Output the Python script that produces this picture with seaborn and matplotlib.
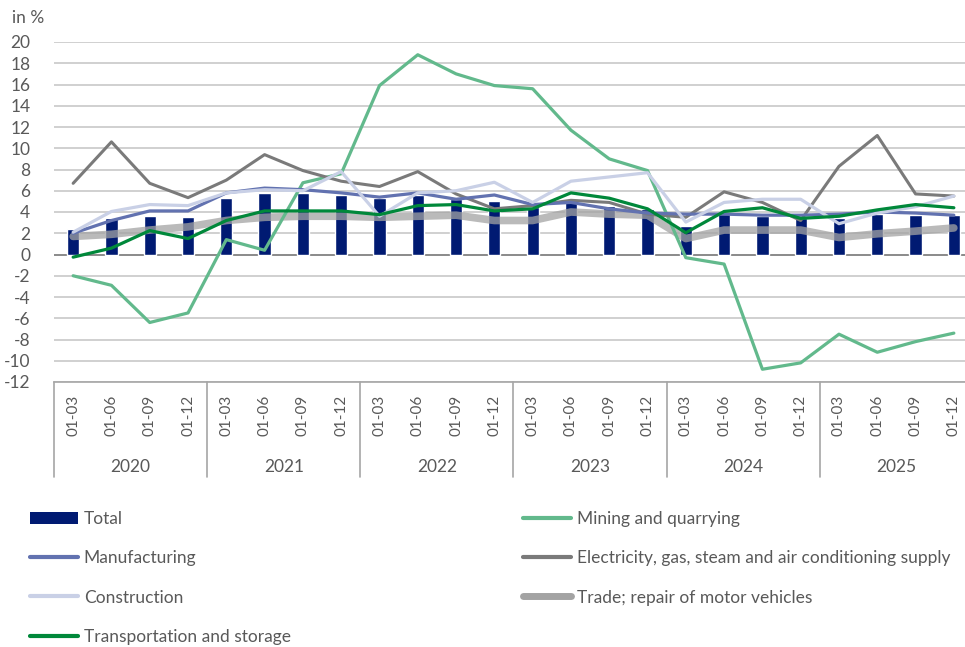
import matplotlib
matplotlib.use("Agg")
import matplotlib.pyplot as plt
import matplotlib.transforms as mtransforms
from matplotlib.lines import Line2D
from matplotlib.patches import Patch
import seaborn as sns
import pandas as pd
import numpy as np

years = ['2020', '2021', '2022', '2023', '2024', '2025']
quarters = ['01-03', '01-06', '01-09', '01-12']

total = [2.4, 3.4, 3.6, 3.5, 5.3, 5.75, 5.75, 5.6, 5.3, 5.6, 5.2, 5.0,
         4.5, 4.9, 4.6, 4.3, 2.7, 3.8, 3.6, 3.4, 3.45, 3.8, 3.7, 3.7]
mining = [-2.0, -2.9, -6.4, -5.5, 1.4, 0.4, 6.75, 7.6, 15.9, 18.8, 17.0, 15.9,
          15.6, 11.7, 9.0, 7.9, -0.3, -0.9, -10.8, -10.2, -7.5, -9.2, -8.2, -7.4]
manufacturing = [2.0, 3.2, 4.1, 4.1, 5.8, 6.25, 6.1, 5.8, 5.4, 5.8, 5.2, 5.6,
                 4.7, 4.9, 4.3, 3.9, 3.8, 3.8, 3.7, 3.7, 3.8, 4.0, 3.9, 3.7]
electricity = [6.7, 10.6, 6.7, 5.35, 7.0, 9.4, 7.9, 6.9, 6.4, 7.8, 5.7, 4.3,
               4.6, 5.1, 4.9, 3.8, 3.5, 5.9, 4.9, 3.2, 8.3, 11.2, 5.7, 5.5]
construction = [2.1, 4.05, 4.7, 4.6, 5.8, 6.1, 6.0, 7.8, 3.6, 5.8, 6.0, 6.8,
                4.9, 6.9, 7.3, 7.7, 3.05, 4.9, 5.2, 5.2, 2.9, 3.9, 4.5, 5.5]
trade = [1.7, 1.9, 2.3, 2.6, 3.2, 3.5, 3.6, 3.6, 3.5, 3.6, 3.7, 3.2,
         3.2, 4.0, 3.8, 3.7, 1.5, 2.3, 2.3, 2.3, 1.6, 1.95, 2.2, 2.5]
transport = [-0.25, 0.6, 2.25, 1.5, 3.2, 4.1, 4.1, 4.1, 3.75, 4.6, 4.7, 4.1,
             4.3, 5.8, 5.3, 4.3, 2.05, 4.05, 4.4, 3.4, 3.6, 4.2, 4.7, 4.4]

labels = ['Total', 'Mining and quarrying', 'Manufacturing',
          'Electricity, gas, steam and air conditioning supply', 'Construction',
          'Trade; repair of motor vehicles', 'Transportation and storage']

sns.set_theme(style="white")
plt.rcParams['font.family'] = ['Lato', 'DejaVu Sans']
plt.rcParams['axes.unicode_minus'] = False

TXT = '#595959'
C_TOTAL = '#001A72'
C_MIN = '#62B98C'
C_MAN = '#6272B0'
C_ELE = '#7A7A7A'
C_CON = '#C9D0E6'
C_TRA = '#A3A3A3'
C_TRS = '#00883A'

n = len(total)
pos = np.arange(n)
df = pd.DataFrame({'pos': pos, 'total': total, 'mining': mining,
                   'manufacturing': manufacturing, 'electricity': electricity,
                   'construction': construction, 'trade': trade,
                   'transport': transport})

fig = plt.figure(figsize=(9.65, 6.47), dpi=100)
ax = fig.add_axes([54 / 965, 1 - 382 / 647, (973 - 54) / 965, (382 - 42) / 647])

sns.barplot(data=df, x='pos', y='total', color=C_TOTAL, width=0.32,
            saturation=1, ax=ax, zorder=3, native_scale=True)

line_specs = [
    ('trade', C_TRA, 5.5, 0.75),
    ('mining', C_MIN, 2.3, 1),
    ('electricity', C_ELE, 2.2, 1),
    ('manufacturing', C_MAN, 2.3, 1),
    ('construction', C_CON, 2.3, 1),
    ('transport', C_TRS, 2.3, 1),
]
for col, c, lw, a in line_specs:
    sns.lineplot(data=df, x='pos', y=col, color=c, linewidth=lw, alpha=a,
                 ax=ax, zorder=4)

ax.set_xlim(-0.5, n - 0.5)
ax.set_ylim(-12, 20)
ax.set_yticks(np.arange(-12, 21, 2))
ax.yaxis.grid(True, color='#D0D0D0', linewidth=1.4, zorder=0)
ax.axhline(0, color='#8C8C8C', linewidth=1.4, zorder=2)
ax.set_axisbelow(True)
for s in ['top', 'right', 'left']:
    ax.spines[s].set_visible(False)
ax.spines['bottom'].set_color('#A6A6A6')
ax.spines['bottom'].set_linewidth(1.2)
ax.set_xlabel('')
ax.set_ylabel('')

ax.set_xticks(pos)
ax.set_xticklabels(quarters * len(years), rotation=90, fontsize=11, color=TXT)
ax.tick_params(axis='x', length=0, pad=9)
ax.tick_params(axis='y', length=0, pad=17, labelsize=12.5, labelcolor=TXT)

trans = mtransforms.blended_transform_factory(ax.transData, ax.transAxes)
for k in range(len(years) + 1):
    xk = -0.5 + 4 * k
    ax.add_line(Line2D([xk, xk], [0, -0.28], transform=trans, color='#A6A6A6',
                       linewidth=1.2, clip_on=False))
for k, yr in enumerate(years):
    ax.text(1.5 + 4 * k, -0.25, yr, transform=trans, ha='center', va='center',
            fontsize=12.5, color=TXT)

fig.text(12 / 965, 1 - 18 / 647, 'in %', fontsize=12.5, color=TXT,
         ha='left', va='center')

h_total = Patch(facecolor=C_TOTAL, edgecolor='none')
h = {
    'mining': Line2D([], [], color=C_MIN, linewidth=3),
    'manufacturing': Line2D([], [], color=C_MAN, linewidth=3),
    'electricity': Line2D([], [], color=C_ELE, linewidth=3),
    'construction': Line2D([], [], color=C_CON, linewidth=3),
    'trade': Line2D([], [], color=C_TRA, linewidth=5),
    'transport': Line2D([], [], color=C_TRS, linewidth=3),
}
leg_kw = dict(frameon=False, fontsize=12.5, labelcolor=TXT, handlelength=2.75,
              handleheight=0.7, handletextpad=0.35, labelspacing=1.34,
              borderaxespad=0, borderpad=0, loc='upper left')
leg1 = fig.legend([h_total, h['manufacturing'], h['construction'], h['transport']],
                  [labels[0], labels[2], labels[4], labels[6]],
                  bbox_to_anchor=(30 / 965, 1 - 511 / 647), **leg_kw)
leg2 = fig.legend([h['mining'], h['electricity'], h['trade']],
                  [labels[1], labels[3], labels[5]],
                  bbox_to_anchor=(523 / 965, 1 - 511 / 647), **leg_kw)

fig.savefig('out.png', dpi=100)
